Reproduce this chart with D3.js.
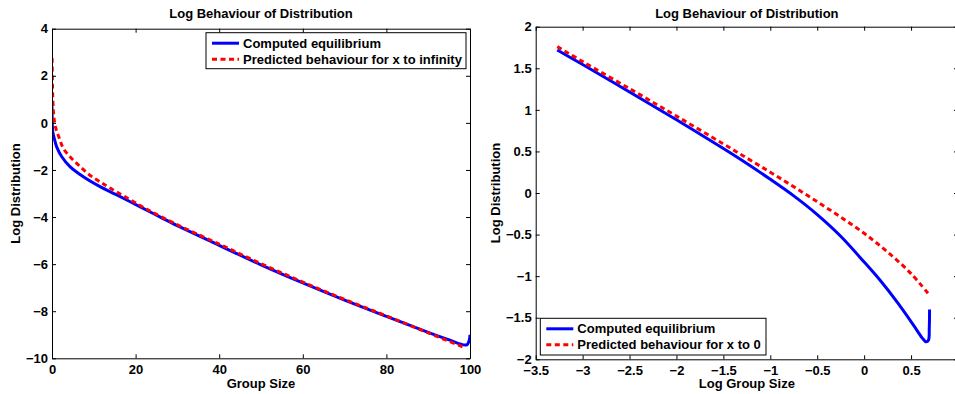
<!DOCTYPE html>
<html>
<head>
<meta charset="utf-8">
<script src="https://cdn.jsdelivr.net/npm/d3@7"></script>
<style>
  body { margin: 0; background: #fff; }
  svg text { font-family: "Liberation Sans", Arial, sans-serif; font-weight: bold; font-size: 13px; fill: #000; }
</style>
</head>
<body>
<svg id="chart" width="955" height="394"></svg>
<script>
// left panel: group size vs log distribution
var leftCompX = [0, 0.03, 0.08, 0.2, 0.48, 1.1, 2.3, 4.3, 7.5, 11.5, 15.5, 21, 25.8, 30.6, 40, 50, 60, 70, 80, 90, 95, 98.4, 99.3, 99.8, 100];
var leftCompY = [0.7, 0.3, -0.1, -0.4, -0.62, -1.01, -1.43, -1.86, -2.29, -2.71, -3.06, -3.56, -3.99, -4.42, -5.2, -6.03, -6.8, -7.53, -8.22, -8.9, -9.22, -9.43, -9.42, -9.25, -9.0];
var leftPredX = [0.02, 0.1, 0.2, 0.35, 0.55, 0.8, 1.2, 1.75, 2.7, 4.3, 6.1, 7.9, 9.9, 12, 14, 17.5, 22.6, 30, 40, 50, 60, 70, 80, 90, 98.5];
var leftPredY = [2.75, 1.8, 1.0, 0.45, 0.1, -0.15, -0.4, -0.65, -1.08, -1.44, -1.75, -2.05, -2.33, -2.56, -2.78, -3.14, -3.66, -4.33, -5.15, -5.98, -6.76, -7.5, -8.2, -8.92, -9.53];

// right panel: log group size vs log distribution
var rightCompX = [-3.27, -3, -2.5, -2, -1.5, -1.25, -1, -0.75, -0.5, -0.25, 0, 0.17, 0.35, 0.52, 0.62, 0.66, 0.685, 0.694, 0.697];
var rightCompY = [1.72, 1.545, 1.215, 0.88, 0.535, 0.355, 0.165, -0.035, -0.26, -0.52, -0.83, -1.05, -1.31, -1.58, -1.745, -1.79, -1.77, -1.62, -1.4];
var rightPredX = [-3.27, -3, -2.5, -2, -1.5, -1.25, -1, -0.75, -0.5, -0.25, 0, 0.25, 0.5, 0.69];
var rightPredY = [1.76, 1.58, 1.255, 0.925, 0.59, 0.42, 0.25, 0.075, -0.105, -0.29, -0.485, -0.71, -0.97, -1.22];

var leftXTicks = [0, 20, 40, 60, 80, 100];
var leftYTicks = [-10, -8, -6, -4, -2, 0, 2, 4];
var rightXTicks = [-3.5, -3, -2.5, -2, -1.5, -1, -0.5, 0, 0.5, 1];
var rightYTicks = [-2, -1.5, -1, -0.5, 0, 0.5, 1, 1.5, 2];

var titleText = "Log Behaviour of Distribution";
var compLabel = "Computed equilibrium";
var leftPredLabel = "Predicted behaviour for x to infinity";
var rightPredLabel = "Predicted behaviour for x to 0";

var svg = d3.select("#chart");
var minus = s => String(s).replace("-", "\u2212");

function panel(opt) {
  var x = d3.scaleLinear().domain(opt.xDomain).range([opt.left, opt.right]);
  var y = d3.scaleLinear().domain(opt.yDomain).range([opt.bottom, opt.top]);
  var g = svg.append("g");
  var clipId = "clip" + opt.id;

  g.append("clipPath").attr("id", clipId)
    .append("rect")
      .attr("x", opt.left).attr("y", opt.top)
      .attr("width", opt.right - opt.left).attr("height", opt.bottom - opt.top);

  var line = d3.line().x(d => x(d[0])).y(d => y(d[1])).curve(d3.curveCatmullRom.alpha(0.5));

  var plot = g.append("g").attr("clip-path", "url(#" + clipId + ")");
  plot.append("path")
    .attr("d", line(d3.zip(opt.compX, opt.compY)))
    .attr("fill", "none").attr("stroke", "#0000ff").attr("stroke-width", 3);
  plot.append("path")
    .attr("d", line(d3.zip(opt.predX, opt.predY)))
    .attr("fill", "none").attr("stroke", "#ff0000").attr("stroke-width", 3)
    .attr("stroke-dasharray", "5,3.5");

  // axes, ticks inward on all four sides
  g.append("g").attr("transform", "translate(0," + opt.bottom + ")")
    .call(d3.axisBottom(x).tickValues(opt.xTicks).tickSizeInner(-4).tickSizeOuter(0).tickPadding(6).tickFormat(minus));
  g.append("g").attr("transform", "translate(0," + opt.top + ")")
    .call(d3.axisTop(x).tickValues(opt.xTicks).tickSizeInner(-4).tickSizeOuter(0).tickFormat(""));
  g.append("g").attr("transform", "translate(" + opt.left + ",0)")
    .call(d3.axisLeft(y).tickValues(opt.yTicks).tickSizeInner(-4).tickSizeOuter(0).tickPadding(4).tickFormat(minus));
  g.append("g").attr("transform", "translate(" + opt.right + ",0)")
    .call(d3.axisRight(y).tickValues(opt.yTicks).tickSizeInner(-4).tickSizeOuter(0).tickFormat(""));
  g.selectAll(".domain").attr("stroke", "#000").attr("stroke-width", 1);
  g.selectAll(".tick line").attr("stroke", "#000");
  g.selectAll(".tick text").attr("font-size", null).attr("font-family", null);

  var cx = (opt.left + opt.right) / 2;
  g.append("text").attr("x", cx).attr("y", 18).attr("text-anchor", "middle").text(titleText);
  g.append("text").attr("x", cx).attr("y", 388).attr("text-anchor", "middle").text(opt.xLabel);
  g.append("text").attr("transform", "translate(" + opt.yLabelX + "," + ((opt.top + opt.bottom) / 2) + ") rotate(-90)")
    .attr("text-anchor", "middle").text("Log Distribution");

  // legend
  var lg = opt.legend;
  g.append("rect").attr("x", lg.x).attr("y", lg.y).attr("width", lg.w).attr("height", lg.h)
    .attr("fill", "#fff").attr("stroke", "#000").attr("stroke-width", 1);
  var rows = [
    {label: compLabel, color: "#0000ff", dash: null},
    {label: opt.predLabel, color: "#ff0000", dash: "5,3.5"}
  ];
  rows.forEach(function(r, i) {
    var ry = lg.y + 10.5 + i * 16;
    g.append("line").attr("x1", lg.x + 6).attr("x2", lg.x + 33).attr("y1", ry).attr("y2", ry)
      .attr("stroke", r.color).attr("stroke-width", 3).attr("stroke-dasharray", r.dash);
    g.append("text").attr("x", lg.x + 37).attr("y", ry + 4.5).text(r.label);
  });
}

panel({
  id: "L", left: 52, right: 470, top: 28.7, bottom: 358.3,
  xDomain: [0, 100], yDomain: [-10, 4], xTicks: leftXTicks, yTicks: leftYTicks,
  compX: leftCompX, compY: leftCompY, predX: leftPredX, predY: leftPredY,
  xLabel: "Group Size", yLabelX: 20, predLabel: leftPredLabel,
  legend: {x: 206, y: 32.7, w: 260, h: 36}
});

panel({
  id: "R", left: 535.7, right: 958, top: 26.7, bottom: 359.3,
  xDomain: [-3.5, 1], yDomain: [-2, 2], xTicks: rightXTicks, yTicks: rightYTicks,
  compX: rightCompX, compY: rightCompY, predX: rightPredX, predY: rightPredY,
  xLabel: "Log Group Size", yLabelX: 500, predLabel: rightPredLabel,
  legend: {x: 540.3, y: 318.3, w: 225.7, h: 36.7}
});
</script>
</body>
</html>
